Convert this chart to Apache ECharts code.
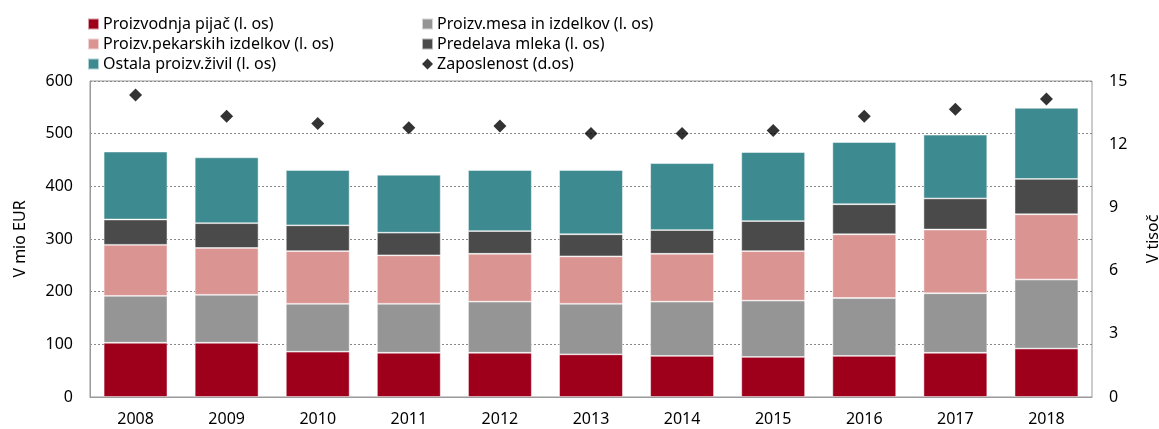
<!DOCTYPE html>
<html>
<head>
<meta charset="utf-8">
<script src="https://cdn.jsdelivr.net/npm/echarts@6/dist/echarts.min.js"></script>
<style>
  html, body { margin: 0; padding: 0; background: #fff; }
  #chart { width: 1159px; height: 429px; }
</style>
</head>
<body>
<div id="chart"></div>
<script>
  // podatki
  const years = ['2008', '2009', '2010', '2011', '2012', '2013', '2014', '2015', '2016', '2017', '2018'];
  const pijace = [103, 103, 86, 84, 84, 81, 78, 76, 78, 84, 92];
  const meso = [89, 91, 91, 93, 97, 96, 103, 107, 110, 113, 131];
  const pekarski = [97, 89, 100, 92, 91, 90, 91, 94, 121, 121, 124];
  const mleko = [48, 47, 49, 43, 43, 42, 45, 57, 57, 59, 67];
  const ostalo = [129, 125, 105, 110, 116, 122, 127, 131, 118, 121, 135];
  const zaposlenost = [14.34, 13.33, 12.98, 12.78, 12.86, 12.51, 12.51, 12.65, 13.33, 13.66, 14.14];

  const font = 'Noto Sans';
  const fs = 16;
  const chart = echarts.init(document.getElementById('chart'));

  function bar(name, data, color) {
    return {
      name: name,
      type: 'bar',
      stack: 'a',
      barWidth: '70%',
      data: data,
      itemStyle: { color: color, borderColor: 'rgba(255,255,255,0.6)', borderWidth: 0.8 }
    };
  }

  const legendText = { fontFamily: font, fontSize: fs, color: '#000', padding: [0, 0, 0, -1] };

  chart.setOption({
    animation: false,
    textStyle: { fontFamily: font },
    grid: {
      left: 90, right: 67, top: 81, bottom: 32,
      outerBoundsMode: 'none',
      show: true, borderColor: '#999', borderWidth: 1
    },
    legend: [
      {
        orient: 'vertical', left: 82, top: 11, itemGap: 4,
        itemWidth: 11, itemHeight: 11, textStyle: legendText,
        data: [
          { name: 'Proizvodnja pijač (l. os)', icon: 'rect' },
          { name: 'Proizv.pekarskih izdelkov (l. os)', icon: 'rect' },
          { name: 'Ostala proizv.živil (l. os)', icon: 'rect' }
        ]
      },
      {
        orient: 'vertical', left: 416, top: 11, itemGap: 4,
        itemWidth: 11, itemHeight: 11, textStyle: legendText,
        data: [
          { name: 'Proizv.mesa in izdelkov (l. os)', icon: 'rect' },
          { name: 'Predelava mleka (l. os)', icon: 'rect' },
          { name: 'Zaposlenost (d.os)', icon: 'diamond' }
        ]
      }
    ],
    xAxis: {
      type: 'category',
      data: years,
      axisLine: { lineStyle: { color: '#999' } },
      axisTick: { show: false },
      axisLabel: { color: '#000', fontSize: fs, margin: 14 }
    },
    yAxis: [
      {
        type: 'value', min: 0, max: 600, interval: 100,
        name: 'V mio EUR', nameLocation: 'middle', nameGap: 62, nameRotate: 90,
        nameTextStyle: { color: '#000', fontSize: fs },
        axisLine: { show: true, lineStyle: { color: '#999' } },
        axisTick: { show: false },
        axisLabel: { color: '#000', fontSize: fs, margin: 17 },
        splitLine: { lineStyle: { color: '#888', type: [2, 2], width: 1 } }
      },
      {
        type: 'value', min: 0, max: 15, interval: 3,
        name: 'V tisoč', nameLocation: 'middle', nameGap: 53, nameRotate: 90,
        nameTextStyle: { color: '#000', fontSize: fs },
        axisLine: { show: false },
        axisTick: { show: false },
        axisLabel: { color: '#000', fontSize: fs, margin: 17 },
        splitLine: { show: false }
      }
    ],
    series: [
      bar('Proizvodnja pijač (l. os)', pijace, '#9e001c'),
      bar('Proizv.mesa in izdelkov (l. os)', meso, '#959595'),
      bar('Proizv.pekarskih izdelkov (l. os)', pekarski, '#da9593'),
      bar('Predelava mleka (l. os)', mleko, '#4a4a4a'),
      bar('Ostala proizv.živil (l. os)', ostalo, '#3e8a91'),
      {
        name: 'Zaposlenost (d.os)',
        type: 'scatter',
        yAxisIndex: 1,
        symbol: 'diamond',
        symbolSize: 13,
        data: zaposlenost,
        itemStyle: { color: '#000' }
      }
    ]
  });
</script>
</body>
</html>
